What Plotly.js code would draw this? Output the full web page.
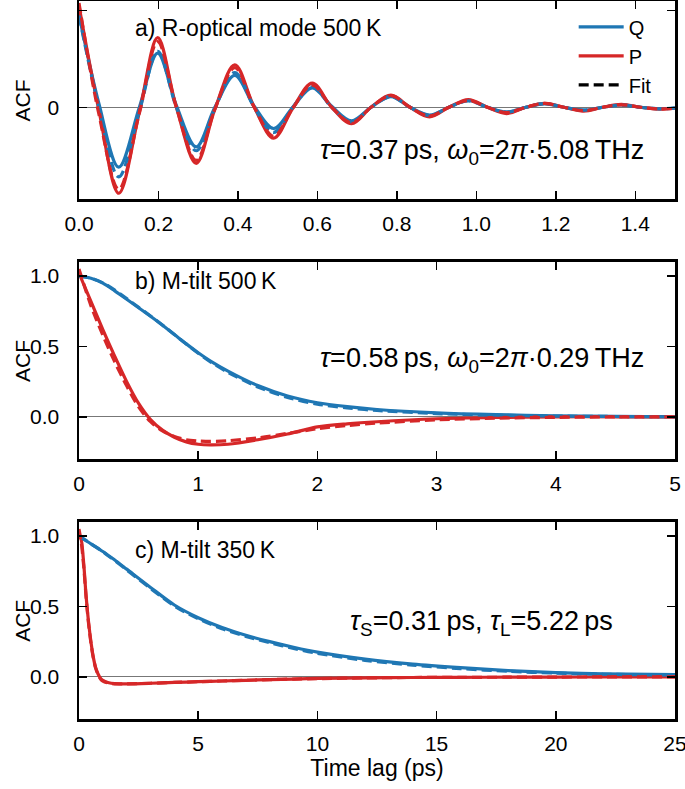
<!DOCTYPE html>
<html>
<head>
<meta charset="utf-8">
<script src="https://cdn.plot.ly/plotly-3.0.1.min.js"></script>
<style>html,body{margin:0;padding:0;background:#fff;}#chart{width:685px;height:789px;}</style>
</head>
<body>
<div id="chart"></div>
<script>
// ---- Panel a) R-optical mode 500 K ----
const ta = [0, 0.05, 0.10, 0.152, 0.198, 0.245, 0.295, 0.342, 0.392, 0.441, 0.49, 0.538, 0.587, 0.636, 0.686, 0.735, 0.785, 0.833, 0.882, 0.931, 0.98, 1.028, 1.076, 1.125, 1.172, 1.22, 1.27, 1.318, 1.365, 1.413, 1.46, 1.5];
const Qa    = [0.96, 0.04, -0.62, 0.00, 0.56, 0.02, -0.41, 0.00, 0.33, 0.01, -0.22, 0.00, 0.20, 0.01, -0.14, 0.00, 0.11, 0.00, -0.08, 0.00, 0.07, 0.00, -0.05, 0.00, 0.035, 0.00, -0.03, 0.00, 0.025, 0.00, -0.015, -0.005];
const Pa    = [1.05, -0.03, -0.89, -0.05, 0.72, 0.00, -0.58, -0.02, 0.44, 0.00, -0.32, -0.01, 0.25, 0.00, -0.17, 0.00, 0.125, 0.00, -0.10, 0.00, 0.08, 0.00, -0.065, 0.00, 0.04, 0.00, -0.04, 0.00, 0.03, 0.00, -0.02, -0.01];
const QaFit = [0.95, 0.00, -0.72, -0.04, 0.58, 0.00, -0.45, -0.01, 0.36, 0.00, -0.26, 0.00, 0.21, 0.00, -0.15, 0.00, 0.11, 0.00, -0.085, 0.00, 0.065, 0.00, -0.05, 0.00, 0.038, 0.00, -0.03, 0.00, 0.022, 0.00, -0.017, -0.008];
const PaFit = [1.08, -0.07, -0.85, -0.06, 0.68, 0.00, -0.55, -0.02, 0.41, 0.00, -0.30, -0.01, 0.23, 0.00, -0.16, 0.00, 0.12, 0.00, -0.09, 0.00, 0.07, 0.00, -0.055, 0.00, 0.04, 0.00, -0.035, 0.00, 0.025, 0.00, -0.018, -0.01];

// ---- Panel b) M-tilt 500 K ----
const tb    = [0, 0.1, 0.2, 0.3, 0.4, 0.5, 0.6, 0.7, 0.8, 0.9, 1.0, 1.1, 1.25, 1.5, 1.75, 2.0, 2.25, 2.5, 3.0, 3.5, 4.0, 4.5, 5.0];
const Qb    = [1.0, 0.985, 0.95, 0.895, 0.835, 0.775, 0.714, 0.651, 0.585, 0.518, 0.455, 0.398, 0.325, 0.222, 0.148, 0.10, 0.072, 0.052, 0.028, 0.015, 0.007, 0.003, 0.0];
const QbFit = [1.0, 0.985, 0.952, 0.90, 0.84, 0.778, 0.716, 0.652, 0.585, 0.517, 0.452, 0.392, 0.316, 0.212, 0.138, 0.09, 0.063, 0.045, 0.023, 0.011, 0.005, 0.002, 0.0];
const Pb    = [1.02, 0.82, 0.62, 0.43, 0.25, 0.095, -0.02, -0.095, -0.145, -0.178, -0.195, -0.20, -0.195, -0.163, -0.122, -0.072, -0.05, -0.035, -0.014, -0.005, 0.0, 0.0, 0.0];
const PbFit = [1.05, 0.79, 0.58, 0.39, 0.22, 0.07, -0.035, -0.10, -0.14, -0.163, -0.172, -0.175, -0.17, -0.15, -0.118, -0.085, -0.062, -0.045, -0.022, -0.01, -0.004, -0.001, 0.0];

// ---- Panel c) M-tilt 350 K ----
const tc    = [0, 0.1, 0.2, 0.3, 0.4, 0.5, 0.6, 0.7, 0.8, 0.9, 1.0, 1.25, 1.5, 2, 3, 4, 5, 6, 7, 8, 9, 10, 12, 14, 16, 18, 20, 22, 25];
const Qc    = [1.0, 0.989, 0.978, 0.967, 0.956, 0.945, 0.934, 0.923, 0.912, 0.901, 0.89, 0.86, 0.83, 0.765, 0.635, 0.51, 0.42, 0.35, 0.295, 0.25, 0.21, 0.175, 0.125, 0.09, 0.065, 0.044, 0.03, 0.021, 0.015];
const QcFit = [1.0, 0.989, 0.978, 0.967, 0.956, 0.945, 0.934, 0.923, 0.912, 0.90, 0.888, 0.857, 0.826, 0.76, 0.628, 0.503, 0.412, 0.342, 0.287, 0.242, 0.202, 0.167, 0.117, 0.083, 0.058, 0.039, 0.026, 0.018, 0.012];
const Pc    = [1.02, 0.97, 0.80, 0.57, 0.39, 0.25, 0.14, 0.065, 0.02, -0.01, -0.025, -0.042, -0.048, -0.05, -0.046, -0.04, -0.035, -0.03, -0.025, -0.02, -0.016, -0.012, -0.008, -0.005, -0.004, -0.003, -0.002, -0.001, 0.0];
const PcFit = [1.05, 0.95, 0.78, 0.56, 0.38, 0.24, 0.135, 0.06, 0.015, -0.015, -0.03, -0.045, -0.05, -0.05, -0.046, -0.04, -0.035, -0.03, -0.025, -0.02, -0.016, -0.013, -0.008, -0.005, -0.004, -0.003, -0.002, -0.001, 0.0];

const legendNames = ['Q', 'P', 'Fit'];
const BLUE = '#1f77b4', RED = '#d62728';
const FONT = 'Liberation Sans, Arial, Helvetica, sans-serif';
const LW = 3.2;
const DASH = '10px,5px';

function series(x, y, color, dashed, xa, ya, name, showleg, sm) {
  return {
    x: x, y: y, type: 'scatter', mode: 'lines',
    xaxis: xa, yaxis: ya,
    name: name || '', showlegend: !!showleg, hoverinfo: 'skip',
    line: {color: color, width: LW, dash: dashed ? DASH : 'solid', shape: 'spline', smoothing: sm || 0.8}
  };
}

// Legend key for the fits: a black dashed copy of the panel-a fit curve,
// plotted on an x-axis whose range holds none of its points, so only its legend entry shows.
const fitKey = {x: ta, y: QaFit, type: 'scatter', mode: 'lines', xaxis: 'x4', yaxis: 'y',
  name: legendNames[2], showlegend: true, hoverinfo: 'skip', line: {color: '#000', width: LW, dash: DASH}};

const data = [
  series(ta, Qa, BLUE, false, 'x', 'y', legendNames[0], true, 1.0),
  series(ta, Pa, RED, false, 'x', 'y', legendNames[1], true, 1.0),
  fitKey,
  series(ta, QaFit, BLUE, true, 'x', 'y', '', false, 1.0),
  series(ta, PaFit, RED, true, 'x', 'y', '', false, 1.0),
  series(tb, Qb, BLUE, false, 'x2', 'y2'),
  series(tb, Pb, RED, false, 'x2', 'y2'),
  series(tb, QbFit, BLUE, true, 'x2', 'y2'),
  series(tb, PbFit, RED, true, 'x2', 'y2'),
  series(tc, Qc, BLUE, false, 'x3', 'y3'),
  series(tc, Pc, RED, false, 'x3', 'y3'),
  series(tc, QcFit, BLUE, true, 'x3', 'y3'),
  series(tc, PcFit, RED, true, 'x3', 'y3')
];

const TICKF = {family: FONT, size: 21, color: '#000'};
function xax(range, dtick, fmt, anchor, extra) {
  return Object.assign({
    range: range, dtick: dtick, tick0: 0, tickformat: fmt, anchor: anchor,
    ticks: 'inside', ticklen: 8, tickwidth: 1.5, tickcolor: '#000',
    showline: true, linecolor: '#000', linewidth: 2.5, mirror: 'ticks',
    showgrid: false, zeroline: false, ticklabelstandoff: 4, ticklabeloverflow: 'allow',
    tickfont: TICKF
  }, extra || {});
}
function yax(range, tickvals, ticktext, domain, anchor) {
  return {
    range: range, tickvals: tickvals, ticktext: ticktext, domain: domain, anchor: anchor,
    ticks: 'inside', ticklen: 8, tickwidth: 1.5, tickcolor: '#000',
    showline: true, linecolor: '#000', linewidth: 2.5, mirror: 'ticks',
    showgrid: false, zeroline: true, zerolinecolor: '#777', zerolinewidth: 1.2,
    ticklabelstandoff: 13,
    tickfont: TICKF
  };
}

const TF = {family: FONT, size: 23, color: '#000'};
const AF = {family: FONT, size: 21, color: '#000'};
const MF = {family: FONT, size: 27, color: '#000'};
const ACFx = -0.095;

const layout = {
  width: 685, height: 789,
  margin: {l: 79, r: 10, t: 1, b: 70},
  paper_bgcolor: '#fff', plot_bgcolor: '#fff',
  font: {family: FONT, color: '#000'},
  showlegend: true,
  legend: {x: 0.83, xanchor: 'left', y: 0.991, yanchor: 'top', bgcolor: 'rgba(0,0,0,0)',
           itemwidth: 45, traceorder: 'normal', tracegroupgap: 0,
           font: {family: FONT, size: 20, color: '#000'}},
  xaxis: xax([0, 1.5], 0.2, '.1f', 'y'),
  xaxis4: {overlaying: 'x', anchor: 'y', range: [10, 11], visible: false, showgrid: false, zeroline: false},
  yaxis: yax([-0.95, 1.1], [0, 1], ['0', '1'], [0.7242, 1], 'x'),
  xaxis2: xax([0, 5], 1, 'd', 'y2'),
  yaxis2: yax([-0.3, 1.1], [0, 0.5, 1], ['0.0', '0.5', '1.0'], [0.3621, 0.6365], 'x2'),
  xaxis3: xax([0, 25], 5, 'd', 'y3', {title: {text: 'Time lag (ps)', font: TF, standoff: 6}}),
  yaxis3: yax([-0.3, 1.1], [0, 0.5, 1], ['0.0', '0.5', '1.0'], [0, 0.2744], 'x3'),
  annotations: [
    {text: 'ACF', textangle: -90, xref: 'paper', yref: 'paper', x: ACFx, y: 0.862, xanchor: 'center', yanchor: 'middle', showarrow: false, font: AF},
    {text: 'ACF', textangle: -90, xref: 'paper', yref: 'paper', x: ACFx, y: 0.4993, xanchor: 'center', yanchor: 'middle', showarrow: false, font: AF},
    {text: 'ACF', textangle: -90, xref: 'paper', yref: 'paper', x: ACFx, y: 0.1372, xanchor: 'center', yanchor: 'middle', showarrow: false, font: AF},
    {text: 'a) R-optical mode 500\u2009K', xref: 'paper', yref: 'paper', x: 0.0906, y: 0.9624, xanchor: 'left', yanchor: 'middle', showarrow: false, font: TF},
    {text: '<i>τ</i>=0.37\u2009ps, <i>ω</i><sub>0</sub>=2<i>π</i>·5.08\u2009THz', xref: 'paper', yref: 'paper', x: 0.401, y: 0.7897, xanchor: 'left', yanchor: 'middle', showarrow: false, font: MF},
    {text: 'b) M-tilt 500\u2009K', xref: 'paper', yref: 'paper', x: 0.0906, y: 0.610, xanchor: 'left', yanchor: 'middle', showarrow: false, font: TF},
    {text: '<i>τ</i>=0.58\u2009ps, <i>ω</i><sub>0</sub>=2<i>π</i>·0.29\u2009THz', xref: 'paper', yref: 'paper', x: 0.401, y: 0.50, xanchor: 'left', yanchor: 'middle', showarrow: false, font: MF},
    {text: 'c) M-tilt 350\u2009K', xref: 'paper', yref: 'paper', x: 0.0906, y: 0.2354, xanchor: 'left', yanchor: 'middle', showarrow: false, font: TF},
    {text: '<i>τ</i><sub>S</sub>=0.31\u2009ps, <i>τ</i><sub>L</sub>=5.22\u2009ps', xref: 'paper', yref: 'paper', x: 0.4513, y: 0.1337, xanchor: 'left', yanchor: 'middle', showarrow: false, font: MF}
  ]
};

Plotly.newPlot('chart', data, layout, {staticPlot: true, displayModeBar: false});
</script>
</body>
</html>
